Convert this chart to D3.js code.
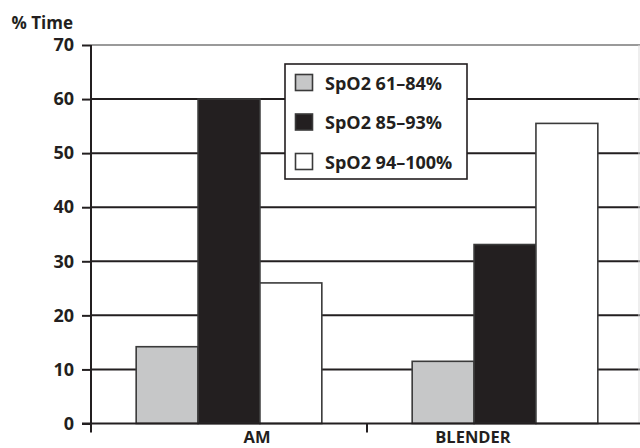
<!DOCTYPE html>
<html>
<head>
<meta charset="utf-8">
<script src="https://cdn.jsdelivr.net/npm/d3@7"></script>
<style>
  body { margin: 0; background: #fff; }
  text { font-family: "Open Sans", sans-serif; font-weight: bold; fill: #231f20; }
</style>
</head>
<body>
<div id="chart"></div>
<script>
// data
var categories = ["AM", "BLENDER"];
var seriesNames = ["SpO2 61\u201384%", "SpO2 85\u201393%", "SpO2 94\u2013100%"];
var low = [14.2, 11.5];
var mid = [60, 33.1];
var high = [26, 55.5];
var yTicks = [0, 10, 20, 30, 40, 50, 60, 70];

var colors = ["#c6c7c8", "#231f20", "#ffffff"];

var svgWidth = 640;
var svgHeight = 448;

var margin = { top: 45, left: 91 };
var plotBottom = 423.5;

var svg = d3.select("#chart")
  .append("svg")
  .attr("width", svgWidth)
  .attr("height", svgHeight);

var y = d3.scaleLinear()
  .domain([0, 70])
  .range([plotBottom, margin.top]);

// third category slot falls off the right edge, like in the picture
var x0 = d3.scaleBand()
  .domain(categories)
  .range([margin.left, margin.left + 276 * 2]);

var x1 = d3.scaleBand()
  .domain(seriesNames)
  .range([0, x0.bandwidth()])
  .paddingInner(0)
  .paddingOuter(0.73);

// gridlines
svg.append("g")
  .selectAll("line")
  .data(yTicks.filter(d => d > 0))
  .enter()
  .append("line")
  .attr("x1", margin.left)
  .attr("x2", svgWidth)
  .attr("y1", d => y(d))
  .attr("y2", d => y(d))
  .attr("stroke", d => d === 70 ? "#9a9a9a" : "#231f20")
  .attr("stroke-width", 2);

// right border of plot area
svg.append("line")
  .attr("x1", svgWidth - 1).attr("x2", svgWidth - 1)
  .attr("y1", y(70)).attr("y2", plotBottom)
  .attr("stroke", "#dddddd");

// bars
var rows = categories.map((c, i) => ({ cat: c, vals: [low[i], mid[i], high[i]] }));

var groups = svg.append("g")
  .selectAll("g")
  .data(rows)
  .enter()
  .append("g")
  .attr("transform", d => `translate(${x0(d.cat)},0)`);

groups.selectAll("rect")
  .data(d => d.vals.map((v, j) => ({ name: seriesNames[j], value: v, j: j })))
  .enter()
  .append("rect")
  .attr("x", d => x1(d.name))
  .attr("width", x1.bandwidth())
  .attr("y", d => y(d.value))
  .attr("height", d => plotBottom - y(d.value))
  .attr("fill", d => colors[d.j])
  .attr("stroke", "#3a3a3a")
  .attr("stroke-width", 1.6);

// y axis
var leftAxis = d3.axisLeft(y).tickValues(yTicks).tickSize(9).tickPadding(8);
var yAxis = svg.append("g")
  .attr("transform", `translate(${margin.left},0)`)
  .call(leftAxis);
yAxis.select(".domain").remove();
yAxis.selectAll(".tick line").attr("stroke", "#231f20").attr("stroke-width", 2);
yAxis.selectAll(".tick text")
  .attr("font-size", 18)
  .attr("font-family", null)
  .attr("fill", null);
yAxis.append("line")
  .attr("y1", margin.top).attr("y2", plotBottom + 7)
  .attr("stroke", "#231f20").attr("stroke-width", 2);

// x axis
svg.append("line")
  .attr("x1", margin.left - 9).attr("x2", svgWidth)
  .attr("y1", plotBottom).attr("y2", plotBottom)
  .attr("stroke", "#231f20").attr("stroke-width", 2);

svg.append("g")
  .selectAll("line")
  .data(categories)
  .enter()
  .append("line")
  .attr("x1", d => x0(d)).attr("x2", d => x0(d))
  .attr("y1", plotBottom).attr("y2", plotBottom + 9)
  .attr("stroke", "#231f20").attr("stroke-width", 2);

// labels sit pulled in toward the middle tick
svg.append("g")
  .selectAll("text")
  .data(categories)
  .enter()
  .append("text")
  .attr("x", (d, i) => x0(d) + x0.bandwidth() / 2 + (i === 0 ? 28 : -32))
  .attr("y", 443)
  .attr("text-anchor", "middle")
  .attr("font-size", 16.5)
  .text(d => d);

// y axis title
svg.append("text")
  .attr("x", 73)
  .attr("y", 29)
  .attr("text-anchor", "end")
  .attr("font-size", 17)
  .text("% Time");

// legend
var legend = svg.append("g").attr("transform", "translate(285,64)");
legend.append("rect")
  .attr("width", 182).attr("height", 115)
  .attr("fill", "#fff")
  .attr("stroke", "#231f20").attr("stroke-width", 1.6);

var items = legend.selectAll("g.item")
  .data(seriesNames)
  .enter()
  .append("g")
  .attr("class", "item")
  .attr("transform", (d, i) => `translate(0,${i * 39.5})`);

items.append("rect")
  .attr("x", 10.5).attr("y", 10.5)
  .attr("width", 17).attr("height", 16)
  .attr("fill", (d, i) => colors[i])
  .attr("stroke", "#3a3a3a").attr("stroke-width", 1.6);

items.append("text")
  .attr("x", 40)
  .attr("y", 25.5)
  .attr("font-size", 18)
  .text(d => d);
</script>
</body>
</html>
